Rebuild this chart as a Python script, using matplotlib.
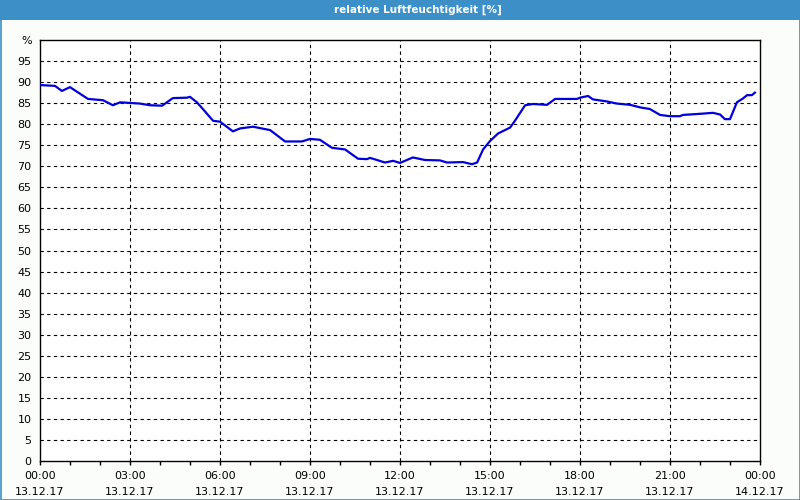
import numpy as np
import matplotlib
matplotlib.use('Agg')
import matplotlib.pyplot as plt
from matplotlib.patches import Rectangle

# hours since 13.12.17 00:00 and relative humidity in %
hours = [0.0, 0.5, 0.73, 1.0, 1.6, 2.1, 2.43, 2.67, 3.33, 3.67, 4.07, 4.43,
         4.9, 5.0, 5.23, 5.43, 5.77, 6.0, 6.43, 6.67, 7.1, 7.67, 8.17, 8.73,
         9.0, 9.33, 9.73, 10.17, 10.6, 10.9, 11.0, 11.23, 11.5, 11.77, 12.0,
         12.43, 12.83, 13.33, 13.57, 14.1, 14.4, 14.57, 14.77, 15.0, 15.27,
         15.67, 15.83, 16.17, 16.43, 16.9, 17.17, 17.9, 18.0, 18.27, 18.43,
         18.9, 19.23, 19.67, 20.0, 20.33, 20.67, 21.0, 21.33, 21.43, 22.07,
         22.43, 22.67, 22.83, 23.0, 23.23, 23.43, 23.57, 23.73, 23.83]
humidity = [89.3, 89.1, 87.9, 88.8, 86.0, 85.7, 84.5, 85.2, 84.9, 84.5, 84.4, 86.2,
            86.3, 86.5, 85.2, 83.6, 80.8, 80.6, 78.3, 79.0, 79.4, 78.6, 75.9, 75.9,
            76.5, 76.3, 74.4, 74.0, 71.8, 71.7, 72.0, 71.5, 70.9, 71.3, 70.8,
            72.1, 71.5, 71.4, 70.9, 71.0, 70.5, 70.9, 74.0, 76.0, 77.8,
            79.2, 80.8, 84.5, 84.8, 84.6, 86.0, 86.0, 86.3, 86.7, 85.9,
            85.4, 84.9, 84.6, 84.0, 83.6, 82.2, 81.9, 81.9, 82.2, 82.5,
            82.7, 82.3, 81.2, 81.2, 85.2, 86.1, 86.9, 86.9, 87.5]

major_hours = [0, 3, 6, 9, 12, 15, 18, 21, 24]
major_labels = ['00:00\n13.12.17', '03:00\n13.12.17', '06:00\n13.12.17',
                '09:00\n13.12.17', '12:00\n13.12.17', '15:00\n13.12.17',
                '18:00\n13.12.17', '21:00\n13.12.17', '00:00\n14.12.17']
title = 'relative Luftfeuchtigkeit [%]'

plt.rcParams['font.family'] = ['DejaVu Sans']
fig = plt.figure(figsize=(8, 5), dpi=100, facecolor='#fbfdfb')

# title bar and frame
fig.patches.append(Rectangle((0, 480 / 500), 1, 20 / 500, transform=fig.transFigure,
                             facecolor='#3c8fc7', edgecolor='none', zorder=0))
fig.patches.append(Rectangle((0.5 / 800, 0.5 / 500), 799 / 800, 499 / 500,
                             transform=fig.transFigure, facecolor='none',
                             edgecolor='#3c8fc7', lw=1.2, zorder=1))
fig.text(418 / 800, 490 / 500, title, color='white', fontweight='bold',
         fontsize=7.5, ha='center', va='center')

ax = fig.add_axes([40 / 800, 39 / 500, 720 / 800, 421 / 500])
ax.set_facecolor('white')
ax.plot(hours, humidity, color='#0000dd', lw=1.6, zorder=3)

ax.set_xlim(0, 24)
ax.set_ylim(0, 100)
ax.set_xticks(major_hours)
ax.set_xticklabels(major_labels, fontsize=8, linespacing=1.75)
ax.set_xticks(np.arange(0, 25, 1), minor=True)
ax.tick_params(axis='x', which='both', direction='out', length=3, width=1, pad=4)
yt = list(range(0, 100, 5)) + [100]
ax.set_yticks(yt)
ax.set_yticklabels([str(v) for v in range(0, 100, 5)] + ['%'], fontsize=8)
ax.tick_params(axis='y', length=0, pad=6)

for v in range(5, 100, 5):
    ax.axhline(v, color='black', lw=0.8, dashes=(3, 3), zorder=1)
for h in major_hours[1:-1]:
    ax.axvline(h, color='black', lw=0.8, dashes=(3, 3), zorder=1)

for s in ax.spines.values():
    s.set_color('black')
    s.set_linewidth(1)

fig.savefig('out.png', dpi=100, facecolor=fig.get_facecolor())
